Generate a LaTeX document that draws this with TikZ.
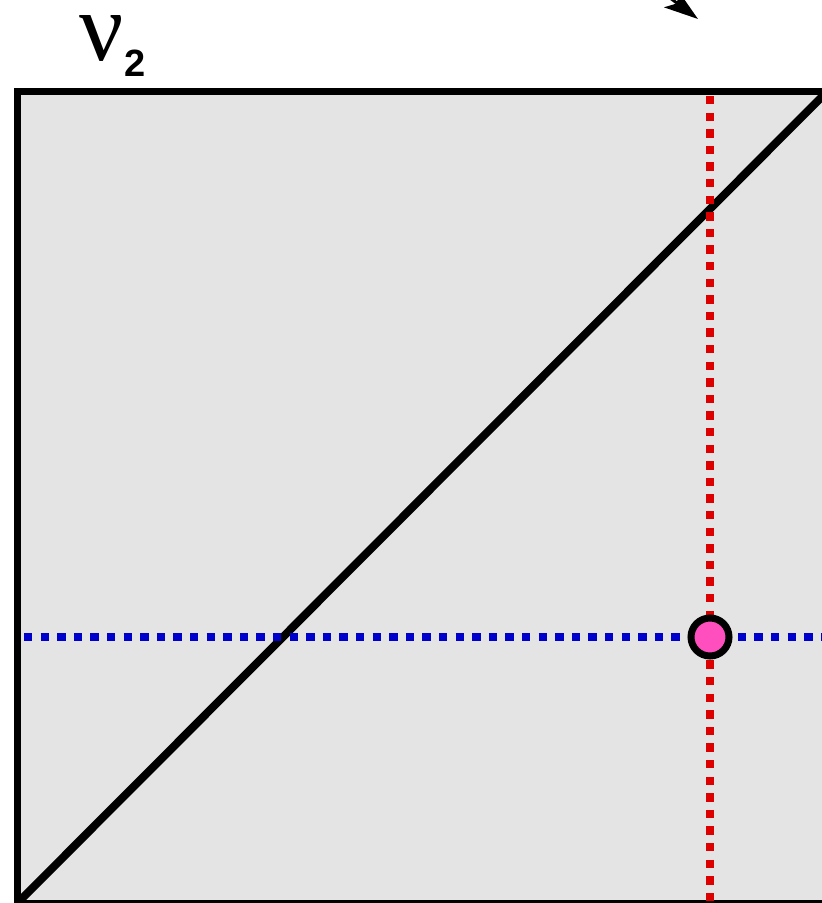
\documentclass[tikz,border=0pt]{standalone}
\usepackage{fontspec}
\setmainfont{Liberation Serif}
\newfontfamily\labsans{Liberation Sans}
\usetikzlibrary{arrows.meta}
\definecolor{boxgray}{HTML}{E4E4E4}
\definecolor{dotred}{HTML}{DD0000}
\definecolor{dotblue}{HTML}{0000CC}
\definecolor{ptpink}{HTML}{FF4FBF}
\tikzset{
  frame/.style={draw=black, line width=6.7pt, fill=boxgray},
  diag/.style={draw=black, line width=8pt},
  reddots/.style={draw=dotred, line width=8.3pt, dash pattern=on 8.3pt off 8.3pt},
  bluedots/.style={draw=dotblue, line width=8.3pt, dash pattern=on 8.3pt off 8.3pt},
  pt/.style={circle, draw=black, line width=7pt, fill=ptpink, minimum size=38pt, inner sep=0pt},
  ptr/.style={-{Stealth[length=34pt,width=22pt,inset=8pt]}, line width=3pt}
}
\begin{document}
\begin{tikzpicture}[x=1pt,y=-1pt]
\useasboundingbox (0,0) rectangle (822,903);
\begin{scope}
\clip (0,0) rectangle (822,903);
\coordinate (bl) at (17.5,903);
\coordinate (tr) at (827,91.7);
\path[frame] (bl) rectangle (tr);
\draw[diag] (bl) -- (tr);
\coordinate (rtop) at (710,96);
\coordinate (rbot) at (710,910);
\coordinate (bl0) at (24,637);
\coordinate (br0) at (830,637);
\draw[reddots] (rtop) -- (rbot);
\draw[bluedots] (bl0) -- (br0);
\node[pt] (p) at (710,637) {};
\coordinate (astart) at (617,-42);
\coordinate (atip) at (698,19);
\draw[ptr] (astart) -- (atip);
\end{scope}
\node[anchor=base, inner sep=0pt, text height=45pt, text depth=0pt, font=\fontsize{98}{98}\selectfont] (nu) at (102,60) {ν};
\node[anchor=base, inner sep=0pt, font=\labsans\bfseries\fontsize{38}{38}\selectfont] (two) at (135.5,76) {2};
\end{tikzpicture}
\end{document}
